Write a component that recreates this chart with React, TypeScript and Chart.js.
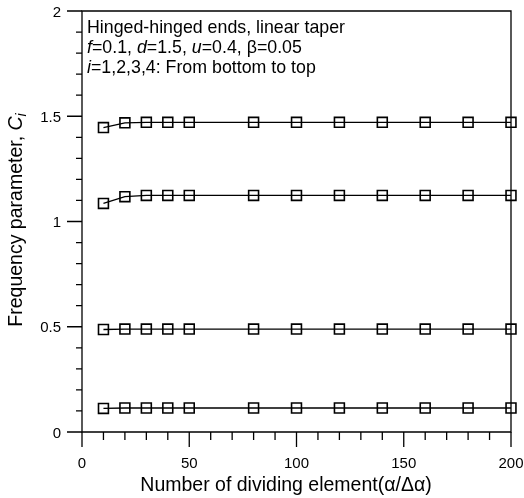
import React, { useEffect, useRef } from "react";
import { Chart, registerables } from "chart.js";

Chart.register(...registerables);

const xValues = [10, 20, 30, 40, 50, 80, 100, 120, 140, 160, 180, 200];
const mode1 = [0.112, 0.114, 0.114, 0.114, 0.114, 0.114, 0.114, 0.114, 0.114, 0.114, 0.114, 0.114];
const mode2 = [0.487, 0.489, 0.489, 0.489, 0.489, 0.489, 0.489, 0.489, 0.489, 0.489, 0.489, 0.489];
const mode3 = [1.086, 1.118, 1.124, 1.124, 1.124, 1.124, 1.124, 1.124, 1.124, 1.124, 1.124, 1.124];
const mode4 = [1.446, 1.469, 1.471, 1.471, 1.471, 1.471, 1.471, 1.471, 1.471, 1.471, 1.471, 1.471];
const seriesList = [mode1, mode2, mode3, mode4];

const xMajorTicks = [0, 50, 100, 150, 200];
const xMinorTicks = [10, 20, 30, 40, 60, 70, 80, 90, 110, 120, 130, 140, 160, 170, 180, 190];
const yMajorTicks = [0, 0.5, 1, 1.5, 2];
const yMajorLabels = ["0", "0.5", "1", "1.5", "2"];
const yMinorTicks = [0.1, 0.2, 0.3, 0.4, 0.6, 0.7, 0.8, 0.9, 1.1, 1.2, 1.3, 1.4, 1.6, 1.7, 1.8, 1.9];

const FONT = "'Liberation Sans', Arial, sans-serif";

type Seg = { t: string; it?: boolean; sub?: boolean };

function drawRich(ctx: CanvasRenderingContext2D, segs: Seg[], x: number, y: number, size: number, align: "left" | "center" = "left") {
  const fontOf = (s: Seg) => {
    const sz = s.sub ? size * 0.72 : size;
    return `${s.it ? "italic " : ""}${sz}px ${FONT}`;
  };
  let total = 0;
  for (const s of segs) {
    ctx.font = fontOf(s);
    total += ctx.measureText(s.t).width;
  }
  let cx = align === "center" ? x - total / 2 : x;
  ctx.textAlign = "left";
  ctx.textBaseline = "alphabetic";
  for (const s of segs) {
    ctx.font = fontOf(s);
    ctx.fillText(s.t, cx, s.sub ? y + size * 0.22 : y);
    cx += ctx.measureText(s.t).width;
  }
}

const axesPlugin = {
  id: "customAxes",
  afterDraw(chart: any) {
    const ctx: CanvasRenderingContext2D = chart.ctx;
    const xs = chart.scales.x;
    const ys = chart.scales.y;
    const { left, right, top, bottom } = chart.chartArea;
    ctx.save();
    ctx.strokeStyle = "#000";
    ctx.fillStyle = "#000";
    ctx.lineWidth = 1.3;
    ctx.beginPath();
    ctx.rect(left, top, right - left, bottom - top);
    ctx.stroke();

    ctx.beginPath();
    for (const v of xMajorTicks) {
      const px = xs.getPixelForValue(v);
      ctx.moveTo(px, bottom);
      ctx.lineTo(px, bottom + 15);
    }
    for (const v of xMinorTicks) {
      const px = xs.getPixelForValue(v);
      ctx.moveTo(px, bottom);
      ctx.lineTo(px, bottom + 8);
    }
    for (const v of yMajorTicks) {
      const py = ys.getPixelForValue(v);
      ctx.moveTo(left, py);
      ctx.lineTo(left - 15, py);
    }
    for (const v of yMinorTicks) {
      const py = ys.getPixelForValue(v);
      ctx.moveTo(left, py);
      ctx.lineTo(left - 6, py);
    }
    ctx.stroke();

    ctx.font = `15px ${FONT}`;
    ctx.textAlign = "center";
    ctx.textBaseline = "alphabetic";
    for (const v of xMajorTicks) {
      ctx.fillText(String(v), xs.getPixelForValue(v), bottom + 36);
    }
    ctx.textAlign = "right";
    yMajorTicks.forEach((v, i) => {
      ctx.fillText(yMajorLabels[i], left - 21, ys.getPixelForValue(v) + 5.5);
    });

    // x title
    drawRich(ctx, [{ t: "Number of dividing element(α/Δα)" }], 286, 491, 19.5, "center");

    // y title
    ctx.save();
    ctx.translate(22, 220);
    ctx.rotate(-Math.PI / 2);
    drawRich(ctx, [{ t: "Frequency parameter, " }, { t: "C", it: true }, { t: "i", it: true, sub: true }], 0, 0, 19.5, "center");
    ctx.restore();

    // annotation
    const ax = left + 5;
    const fs = 17.8;
    drawRich(ctx, [{ t: "Hinged-hinged ends, linear taper" }], ax, 32.5, fs);
    drawRich(ctx, [
      { t: "f", it: true }, { t: "=0.1, " },
      { t: "d", it: true }, { t: "=1.5, " },
      { t: "u", it: true }, { t: "=0.4, β=0.05" },
    ], ax, 52.7, fs);
    drawRich(ctx, [{ t: "i", it: true }, { t: "=1,2,3,4: From bottom to top" }], ax, 73, fs);
    ctx.restore();
  },
};

export default function App() {
  const ref = useRef<HTMLCanvasElement | null>(null);
  useEffect(() => {
    if (!ref.current) return;
    const chart = new Chart(ref.current, {
      type: "line",
      data: {
        datasets: seriesList.map((s, i) => ({
          label: `i=${i + 1}`,
          data: xValues.map((x, j) => ({ x, y: s[j] })),
          borderColor: "#000",
          borderWidth: 1.3,
          pointStyle: "rect",
          pointRadius: 7,
          pointBorderWidth: 1.6,
          pointBorderColor: "#000",
          pointBackgroundColor: "rgba(0,0,0,0)",
          tension: 0,
          clip: false,
        })),
      },
      options: {
        responsive: false,
        animation: false,
        layout: { padding: { left: 82, right: 13, top: 11, bottom: 66 } },
        plugins: { legend: { display: false }, tooltip: { enabled: false } },
        scales: {
          x: { type: "linear", min: 0, max: 200, display: false },
          y: { type: "linear", min: 0, max: 2, display: false },
        },
      },
      plugins: [axesPlugin],
    } as any);
    return () => chart.destroy();
  }, []);
  return (
    <div style={{ position: "fixed", left: 0, top: 0, width: 524, height: 498, background: "#fff" }}>
      <canvas ref={ref} width={524} height={498} style={{ width: 524, height: 498 }} />
    </div>
  );
}
